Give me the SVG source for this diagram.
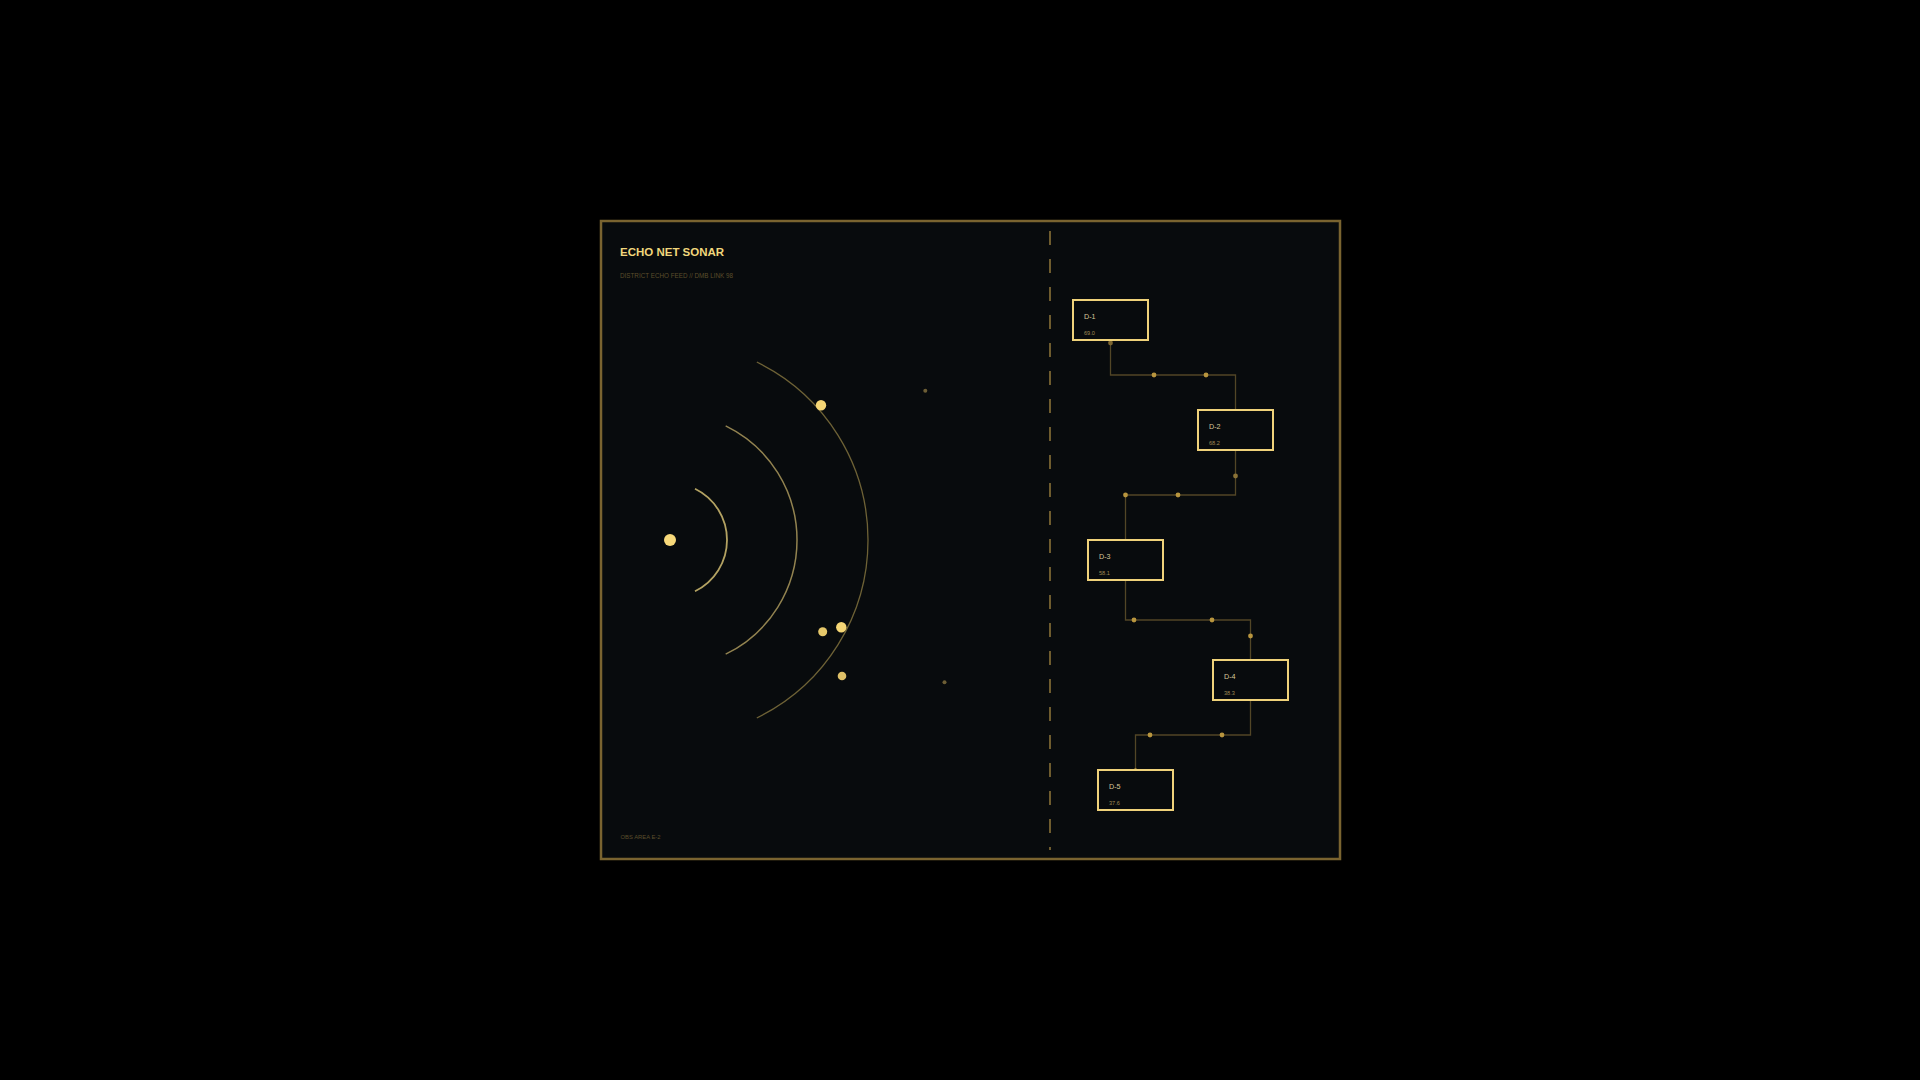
<svg xmlns="http://www.w3.org/2000/svg" width="1920" height="1080" viewBox="0 0 1920 1080">
<defs>
<style>
.frame{fill:#080b0d;stroke:#7a6430;stroke-width:2.5}
.divider{stroke:#6e5c2e;stroke-width:2;stroke-dasharray:14 14;fill:none}
.arc{fill:none}
.node rect{fill:#080b0d;stroke:#efd27a;stroke-width:2}
.lbl{font-family:"Liberation Sans",Arial,sans-serif;font-size:7.2px;fill:#d8c89a}
.val{font-family:"Liberation Sans",Arial,sans-serif;font-size:5.6px;fill:#a08a55}
.wire{fill:none;stroke:#524626;stroke-width:1.3}
.jd{fill:#b8953e}
.title{font-family:"Liberation Sans",Arial,sans-serif;font-weight:bold;font-size:11.5px;fill:#f1d77c}
.sub{font-family:"Liberation Sans",Arial,sans-serif;font-size:6.6px;fill:#5c4e2c}
.foot{font-family:"Liberation Sans",Arial,sans-serif;font-size:5.8px;fill:#5c4e2c}
</style>
</defs>
<rect x="0" y="0" width="1920" height="1080" fill="#000"/>
<rect class="frame" x="601" y="221" width="739" height="638"/>
<text class="title" x="620" y="255.5">ECHO NET SONAR</text>
<text class="sub" x="620" y="278" textLength="113" lengthAdjust="spacingAndGlyphs">DISTRICT ECHO FEED // DMB LINK 98</text>
<text class="foot" x="620.5" y="839" textLength="40" lengthAdjust="spacingAndGlyphs">OBS AREA E-2</text>
<line class="divider" x1="1050" y1="231" x2="1050" y2="850"/>
<g id="sonar">
<path class="arc" d="M694.99 488.77 A57 57 0 0 1 694.99 591.23" stroke="#b3a262" stroke-width="1.8"/>
<path class="arc" d="M725.67 425.85 A127 127 0 0 1 725.67 654.15" stroke="#928350" stroke-width="1.5"/>
<path class="arc" d="M756.80 362.04 A198 198 0 0 1 756.80 717.96" stroke="#6e6236" stroke-width="1.3"/>
<circle cx="670" cy="540" r="6" fill="#f7d97a"/>
<circle cx="821" cy="405.3" r="5.2" fill="#f5d675"/>
<circle cx="822.7" cy="631.7" r="4.5" fill="#e6c86a"/>
<circle cx="841.3" cy="627.3" r="5.2" fill="#f5d675"/>
<circle cx="842" cy="676" r="4.3" fill="#dfc168"/>
<circle cx="925.3" cy="390.7" r="2" fill="#6d5e35"/>
<circle cx="944.5" cy="682.3" r="2" fill="#6d5e35"/>
</g>
<g id="connectors">
<path class="wire" d="M1110.5 341 V375 H1235.5 V409"/>
<path class="wire" d="M1235.5 451 V495 H1125.5 V539"/>
<path class="wire" d="M1125.5 581 V620 H1250.5 V659"/>
<path class="wire" d="M1250.5 701 V735 H1135.5 V769"/>
<circle cx="1110.5" cy="343" r="2.4" fill="#7d6630"/>
<circle class="jd" cx="1154" cy="375" r="2.4"/>
<circle class="jd" cx="1206" cy="375" r="2.4"/>
<circle cx="1235.5" cy="476" r="2.4" fill="#8a7236"/>
<circle class="jd" cx="1125.5" cy="495" r="2.4"/>
<circle class="jd" cx="1178" cy="495" r="2.4"/>
<circle class="jd" cx="1134" cy="620" r="2.4"/>
<circle class="jd" cx="1212" cy="620" r="2.4"/>
<circle class="jd" cx="1250.5" cy="636" r="2.4"/>
<circle class="jd" cx="1150" cy="735" r="2.4"/>
<circle class="jd" cx="1222" cy="735" r="2.4"/>
<circle class="jd" cx="1135.5" cy="770" r="1.8"/>
</g>
<g id="D-1" class="node"><rect x="1073" y="300" width="75" height="40"/><text class="lbl" x="1084" y="319">D-1</text><text class="val" x="1084" y="335">69.0</text></g>
<g id="D-2" class="node"><rect x="1198" y="410" width="75" height="40"/><text class="lbl" x="1209" y="429">D-2</text><text class="val" x="1209" y="445">68.2</text></g>
<g id="D-3" class="node"><rect x="1088" y="540" width="75" height="40"/><text class="lbl" x="1099" y="559">D-3</text><text class="val" x="1099" y="575">58.1</text></g>
<g id="D-4" class="node"><rect x="1213" y="660" width="75" height="40"/><text class="lbl" x="1224" y="679">D-4</text><text class="val" x="1224" y="695">38.3</text></g>
<g id="D-5" class="node"><rect x="1098" y="770" width="75" height="40"/><text class="lbl" x="1109" y="789">D-5</text><text class="val" x="1109" y="805">37.6</text></g>
</svg>
